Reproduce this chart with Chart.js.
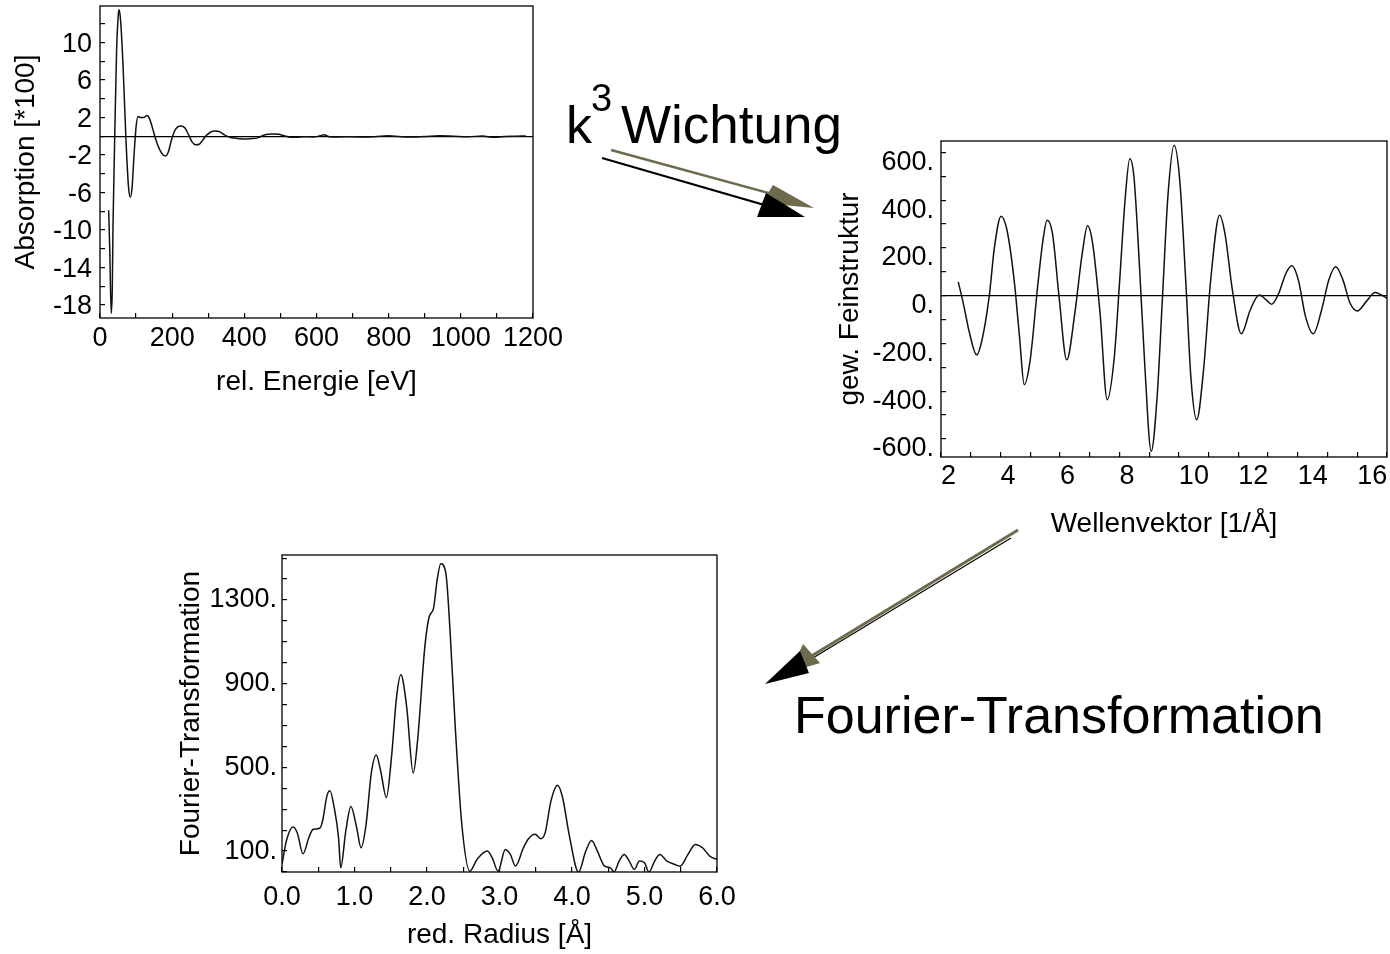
<!DOCTYPE html>
<html>
<head>
<meta charset="utf-8">
<script src="https://cdn.jsdelivr.net/npm/chart.js@4.4.1/dist/chart.umd.min.js"></script>
<style>
  body { margin: 0; background: #fff; width: 1390px; height: 954px; position: relative; overflow: hidden; font-family: "Liberation Sans", Arial, sans-serif; }
  canvas { position: absolute; }
  .lbl { position: absolute; white-space: nowrap; line-height: 1; color: #000; }
  svg { position: absolute; left: 0; top: 0; }
</style>
</head>
<body>
<canvas id="absorption" width="600" height="400" style="left:0;top:0"></canvas>
<canvas id="feinstruktur" width="570" height="420" style="left:820px;top:130px"></canvas>
<canvas id="fourier" width="600" height="414" style="left:160px;top:540px"></canvas>

<span class="lbl" style="left:566px;top:99px;font-size:52px">k</span>
<span class="lbl" style="left:591px;top:79px;font-size:38px">3</span>
<span class="lbl" style="left:621px;top:98px;font-size:53px">Wichtung</span>
<span class="lbl" style="left:794px;top:689px;font-size:52px">Fourier-Transformation</span>

<svg width="1390" height="954">
  <line x1="611" y1="150" x2="776" y2="195" stroke="#6e6a4c" stroke-width="2.5"/>
  <polygon points="773,185 814,208 762,203" fill="#6e6a4c"/>
  <line x1="602" y1="158" x2="768" y2="206" stroke="#000" stroke-width="2"/>
  <polygon points="766,193 805,217 757,217" fill="#000"/>

  <line x1="1018" y1="530" x2="805" y2="660" stroke="#6e6a4c" stroke-width="3"/>
  <line x1="1011" y1="538" x2="808" y2="661" stroke="#000" stroke-width="1.2"/>
  <polygon points="803,644 820,663 790,672" fill="#6e6a4c"/>
  <polygon points="800,651 809,673 765,684" fill="#000"/>
</svg>

<script>
// Absorption (oben links)
const energy = [24, 27, 31, 34, 36, 41, 46, 51, 53, 57, 64, 72, 79, 84, 89, 94, 100, 105, 112, 122,
  130, 138, 146, 155, 165, 175, 182, 190, 198, 206, 215, 225, 235, 245, 255, 265, 275, 285, 295, 305,
  318, 330, 345, 360, 375, 390, 405, 420, 435, 450, 465, 480, 495, 510, 525, 545, 565, 590, 610, 620,
  635, 660, 690, 720, 760, 800, 830, 860, 900, 940, 980, 1020, 1060, 1090, 1120, 1150, 1180];
const absorption = [-7.9, -12, -18.9, -16.4, -9.7, 0.3, 9.2, 13.1, 13.5, 12.4, 7.4, -0.4, -5.4, -6.5, -5.4, -2.2, 1.0, 2.1, 2.0, 2.0,
  2.2, 1.8, 0.8, -0.4, -1.4, -2.0, -2.1, -1.6, -0.4, 0.5, 1.0, 1.1, 0.9, 0.2, -0.6, -0.9, -0.85, -0.4, 0.1, 0.4,
  0.55, 0.5, 0.15, -0.1, -0.2, -0.28, -0.3, -0.25, -0.2, 0.05, 0.2, 0.25, 0.2, 0.05, -0.1, -0.12, -0.05, -0.08, 0.05, 0.15,
  -0.05, -0.08, -0.05, -0.08, -0.05, 0.05, -0.03, -0.08, -0.02, 0.05, 0, -0.05, 0.02, -0.12, -0.03, 0, 0.02];
const energyTicks = [0, 100, 200, 300, 400, 500, 600, 700, 800, 900, 1000, 1100, 1200];
const energyLabels = [0, 200, 400, 600, 800, 1000, 1200];
const absorptionTicks = [-18, -16, -14, -12, -10, -8, -6, -4, -2, 0, 2, 4, 6, 8, 10, 12];
const absorptionLabels = [-18, -14, -10, -6, -2, 2, 6, 10];

// k3-gewichtete Feinstruktur (rechts)
const waveVector = [2.58, 2.75, 2.96, 3.2, 3.38, 3.62, 3.8, 4.02, 4.22, 4.46, 4.64, 4.8, 5.0, 5.25, 5.43, 5.57, 5.75, 5.97,
  6.23, 6.5, 6.75, 6.93, 7.1, 7.35, 7.59, 7.83, 8.01, 8.19, 8.35, 8.49, 8.67, 8.85, 9.07, 9.27, 9.45, 9.63, 9.84,
  10.03, 10.23, 10.41, 10.6, 10.83, 11.07, 11.37, 11.55, 11.8, 12.1, 12.4, 12.7, 12.94, 13.12, 13.36, 13.6, 13.8,
  14.02, 14.26, 14.52, 14.8, 15.04, 15.28, 15.52, 15.76, 16.0, 16.3, 16.6, 16.85, 17.0];
const feinstruktur = [58, -32, -157, -248, -185, -4, 205, 333, 274, 65, -171, -373, -269, 38, 233, 316, 260, -4,
  -269, -74, 177, 293, 219, -74, -436, -255, 65, 400, 574, 497, 135, -283, -652, -422, -4, 414, 630,
  483, 65, -352, -520, -311, 65, 337, 260, 24, -160, -60, 3, -18, -36, 10, 93, 125,
  65, -88, -160, -60, 65, 121, 65, -32, -64, -25, 13, 0, -11];
const waveTicks = [2, 3, 4, 5, 6, 7, 8, 9, 10, 11, 12, 13, 14, 15, 16, 17];
const waveLabels = [2, 4, 6, 8, 10, 12, 14, 16];
const feinTicks = [-600, -500, -400, -300, -200, -100, 0, 100, 200, 300, 400, 500, 600];
const feinLabels = [-600, -400, -200, 0, 200, 400, 600];

// Fourier-Transformation (unten)
const radius = [0, 0.06, 0.15, 0.21, 0.29, 0.37, 0.43, 0.52, 0.56, 0.62, 0.66, 0.72, 0.78, 0.81, 0.88, 0.95,
  1.03, 1.09, 1.16, 1.23, 1.3, 1.36, 1.44, 1.51, 1.58, 1.64, 1.72, 1.81, 1.87, 1.97,
  2.03, 2.09, 2.14, 2.19, 2.26, 2.32, 2.39, 2.48, 2.59, 2.69, 2.83, 2.9, 2.98,
  3.08, 3.15, 3.22, 3.33, 3.4, 3.49, 3.57, 3.63, 3.71, 3.8, 3.87, 3.96,
  4.09, 4.19, 4.27, 4.35, 4.45, 4.53, 4.58, 4.65, 4.72, 4.79, 4.86, 4.93,
  5.0, 5.06, 5.14, 5.21, 5.31, 5.42, 5.49, 5.6, 5.7, 5.8, 5.9, 6.0];
const ftBetrag = [36, 148, 215, 188, 87, 164, 204, 209, 244, 364, 388, 308, 164, 20, 196, 313,
  212, 116, 228, 468, 559, 484, 356, 548, 836, 943, 788, 473, 628, 1076,
  1220, 1260, 1396, 1473, 1428, 1140, 692, 228, 4, 60, 100, 68, 4,
  108, 84, 28, 116, 159, 180, 159, 188, 340, 415, 356, 180,
  0, 100, 151, 100, 28, 20, 0, 52, 84, 52, 12, 52,
  44, 0, 52, 84, 52, 36, 28, 84, 132, 116, 76, 60];
const radiusTicks = [0, 0.5, 1, 1.5, 2, 2.5, 3, 3.5, 4, 4.5, 5, 5.5, 6];
const radiusLabels = [0, 1, 2, 3, 4, 5, 6];
const ftTicks = [0, 100, 200, 300, 400, 500, 600, 700, 800, 900, 1000, 1100, 1200, 1300, 1400, 1500];
const ftLabels = [100, 500, 900, 1300];

const tickFont = { family: '"Liberation Sans", Arial, sans-serif', size: 27 };
const titleFont = { family: '"Liberation Sans", Arial, sans-serif', size: 28 };

// Rahmen um die Zeichenfläche
const frame = {
  id: 'frame',
  afterDraw(chart) {
    const { ctx, chartArea: a } = chart;
    ctx.save();
    ctx.strokeStyle = '#000';
    ctx.lineWidth = 1.3;
    ctx.strokeRect(a.left, a.top, a.right - a.left, a.bottom - a.top);
    ctx.restore();
  }
};

function axis(o) {
  return {
    type: 'linear',
    min: o.min,
    max: o.max,
    afterBuildTicks: s => { s.ticks = o.ticks.map(v => ({ value: v })); },
    afterFit: s => {
      if (s.isHorizontal()) s.height = o.size; else s.width = o.size;
      s.paddingLeft = s.paddingRight = s.paddingTop = s.paddingBottom = 0;
    },
    ticks: {
      autoSkip: false,
      maxRotation: 0,
      color: '#000',
      font: tickFont,
      padding: o.pad,
      align: o.align || 'center',
      labelOffset: o.labelOffset || 0,
      callback: v => o.labels.includes(v) ? o.fmt(v) : ''
    },
    grid: {
      drawOnChartArea: !!o.zero,
      color: c => (o.zero && c.tick && c.tick.value === 0) ? '#000' : 'rgba(0,0,0,0)',
      tickColor: '#000',
      tickLength: -5,
      lineWidth: 1.2
    },
    border: { display: false },
    title: { display: true, text: o.title, color: '#000', font: titleFont, padding: o.titlePad }
  };
}

function line(xs, ys) {
  return {
    data: xs.map((x, i) => ({ x: x, y: ys[i] })),
    borderColor: '#111',
    borderWidth: 1.5,
    pointRadius: 0,
    fill: false,
    cubicInterpolationMode: 'monotone'
  };
}

function baseOptions(padding, x, y) {
  return {
    responsive: false,
    animation: false,
    devicePixelRatio: 1,
    events: [],
    layout: { padding: padding },
    plugins: { legend: { display: false }, tooltip: { enabled: false } },
    scales: { x: x, y: y }
  };
}

new Chart(document.getElementById('absorption'), {
  type: 'line',
  data: { datasets: [line(energy, absorption)] },
  options: baseOptions(
    { top: 6, right: 67, left: 0, bottom: 0 },
    axis({ min: 0, max: 1200, ticks: energyTicks, labels: energyLabels, fmt: v => String(v),
      size: 82, pad: 9, title: 'rel. Energie [eV]', titlePad: { bottom: 0.5 } }),
    axis({ min: -19.4, max: 13.9, ticks: absorptionTicks, labels: absorptionLabels, fmt: v => String(v),
      size: 100, pad: 13, labelOffset: 2, zero: true, title: 'Absorption [*100]', titlePad: { top: 9.5 } })
  ),
  plugins: [frame]
});

new Chart(document.getElementById('feinstruktur'), {
  type: 'line',
  data: { datasets: [line(waveVector, feinstruktur)] },
  options: baseOptions(
    { top: 11, right: 3, left: 0, bottom: 0 },
    axis({ min: 2, max: 17, ticks: waveTicks, labels: waveLabels, fmt: v => String(v), align: 'start',
      size: 93, pad: 8, title: 'Wellenvektor [1/Å]', titlePad: { bottom: 8.5 } }),
    axis({ min: -676, max: 648, ticks: feinTicks, labels: feinLabels, fmt: v => v + '.',
      size: 121, pad: 12, labelOffset: 10, zero: true, title: 'gew. Feinstruktur', titlePad: { top: 13.5 } })
  ),
  plugins: [frame]
});

new Chart(document.getElementById('fourier'), {
  type: 'line',
  data: { datasets: [line(radius, ftBetrag)] },
  options: baseOptions(
    { top: 15, right: 43, left: 0, bottom: 0 },
    axis({ min: 0, max: 6, ticks: radiusTicks, labels: radiusLabels, fmt: v => v.toFixed(1),
      size: 82, pad: 14, title: 'red. Radius [Å]', titlePad: { bottom: 1.5 } }),
    axis({ min: 0, max: 1515, ticks: ftTicks, labels: ftLabels, fmt: v => v + '.',
      size: 122, pad: 10, title: 'Fourier-Transformation', titlePad: { top: 14.5 } })
  ),
  plugins: [frame]
});
</script>
</body>
</html>
